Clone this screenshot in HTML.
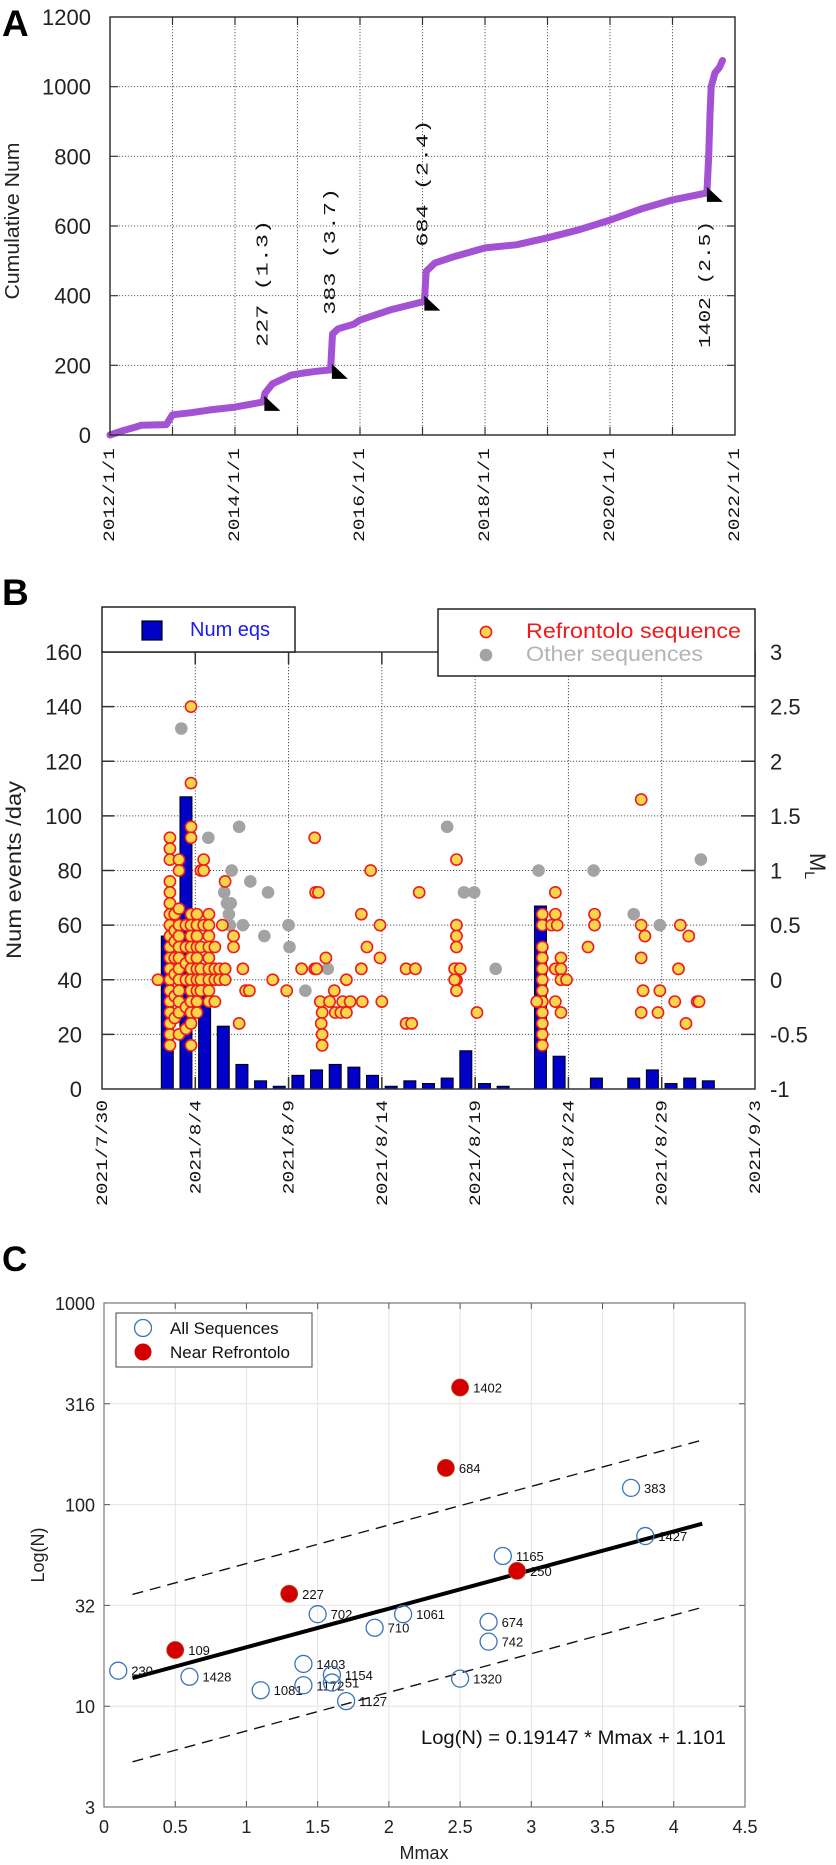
<!DOCTYPE html>
<html><head><meta charset="utf-8">
<style>
html,body{margin:0;padding:0;background:#fff;}
svg{display:block;font-family:"Liberation Sans",sans-serif;}
</style></head>
<body>
<svg id="fig" xmlns="http://www.w3.org/2000/svg" width="836" height="1865" viewBox="0 0 836 1865"></svg>
<script>
// ---------- Panel A data ----------
const aYears = [2012.0,2012.2,2012.4,2012.5,2012.9,2013.0,2013.3,2013.6,2014.0,2014.3,2014.45,2014.48,2014.6,2014.9,2015.1,2015.3,2015.53,2015.56,2015.65,2015.9,2016.0,2016.5,2017.0,2017.03,2017.06,2017.2,2017.5,2018.0,2018.5,2019.0,2019.5,2020.0,2020.5,2021.0,2021.55,2021.58,2021.6,2021.62,2021.68,2021.75,2021.8];
const aCounts = [0,12,22,28,30,58,64,72,80,90,95,120,147,172,178,183,187,290,305,318,330,360,382,384,470,494,512,537,546,566,589,617,649,675,695,800,920,1000,1040,1055,1075];
const evYears = [2014.47,2015.55,2017.03,2021.55];
const evCounts = [95,187,383,695];
const evLabels = ["227 (1.3)","383 (3.7)","684 (2.4)","1402 (2.5)"];
const evBelow = [false,false,false,true];
const aYTicks = [0,200,400,600,800,1000,1200];
const aXTickYears = [2012,2014,2016,2018,2020,2022];
const aXTickLabels = ["2012/1/1","2014/1/1","2016/1/1","2018/1/1","2020/1/1","2022/1/1"];

// ---------- Panel B data ----------
const barDays = [3,4,5,6,7,8,9,10,11,12,13,14,15,16,17,18,19,20,21,23,24,26,28,29,30,31,32];
const barCounts = [56,107,35,23,9,3,1,5,7,9,8,5,1,3,2,4,14,2,1,67,12,4,4,7,2,4,3];
const refDays = [3.0,
 3.64,3.64,3.64,3.64,3.64,3.64,3.64,3.64,3.64,3.64,3.64,3.64,3.64,3.64,3.64,3.64,3.64,3.64,3.64,
 3.9,3.9,3.9,3.9,3.9,3.9,3.9,
 4.13,4.13,4.13,4.13,4.13,4.13,4.13,4.13,4.13,4.13,4.13,4.13,4.13,
 4.5,4.5,4.5,4.5,4.5,4.5,
 4.77,4.77,4.77,4.77,4.77,4.77,4.77,4.77,4.77,4.77,4.77,4.77,4.77,4.77,4.77,4.77,
 5.09,5.09,5.09,5.09,5.09,5.09,5.09,5.09,5.09,5.09,
 5.3,5.3,5.3,5.3,5.3, 5.45,5.45,5.45,
 5.73,5.73,5.73,5.73,5.73,5.73,5.73,5.73,5.73,
 6.05,6.05,6.05,6.05, 6.3,6.3, 6.6,6.6,6.6, 6.45,
 7.05,7.05,7.55,7.7,7.9,7.35,
 9.15,9.9,10.7,11.4,11.4,11.5,11.45,11.6,11.7,11.8,11.75,11.8,11.8,12.0,12.2,12.45,12.5,12.9,12.8,13.1,13.3,13.1,
 13.9,13.9,13.95,14.2,14.4,14.9,14.9,15.0,16.3,16.8,16.3,16.6,17.0,
 19.0,19.0,19.0,19.0,19.0,19.0,19.0,18.9,18.9,19.2,20.1,
 23.6,23.6,23.6,23.6,23.6,23.6,23.6,23.6,23.6,23.6,23.6,23.6,
 24.3,24.3,24.3,24.3,24.1,24.4,24.6,24.6,24.6,24.6,24.9,23.3,
 26.4,26.4,26.05,28.9,28.9,28.9,28.9,29.1,29.0,29.9,29.8,31.0,31.45,30.9,30.7,31.3,31.9,32.0];
const refMags = [0.0,
 1.3,1.2,1.1,0.9,0.8,0.7,0.6,0.5,0.4,0.3,0.2,0.1,0.0,-0.1,-0.2,-0.3,-0.4,-0.5,-0.6,
 0.6,0.45,0.35,0.2,0.05,-0.15,-0.35,
 1.1,1.0,0.65,0.5,0.4,0.3,0.2,0.1,0.0,-0.1,-0.2,-0.3,-0.5,
 0.5,0.3,0.15,0.0,-0.25,-0.45,
 2.5,1.8,1.4,1.3,0.6,0.5,0.4,0.3,0.2,0.1,0.0,-0.1,-0.2,-0.3,-0.4,-0.6,
 0.6,0.5,0.4,0.3,0.2,0.1,0.0,-0.1,-0.2,-0.3,
 1.0,0.3,0.1,0.0,-0.1, 1.1,1.0,0.5,
 0.6,0.5,0.4,0.3,0.2,0.1,0.0,-0.1,-0.2,
 0.3,0.1,0.0,-0.2, 0.1,0.0, 0.9,0.1,0.0, 0.5,
 0.4,0.3,0.1,-0.1,-0.1,-0.4,
 0.0,-0.1,0.1,1.3,0.1,0.1,0.8,0.8,-0.2,-0.3,-0.4,-0.5,-0.6,0.2,-0.2,-0.1,-0.3,-0.2,-0.3,0.0,-0.2,-0.3,
 0.6,0.1,-0.2,0.3,1.0,0.5,0.2,-0.2,0.1,0.1,-0.4,-0.4,0.8,
 1.1,0.5,0.4,0.3,0.1,0.0,-0.1,0.1,0.0,0.1,-0.3,
 0.6,0.5,0.3,0.2,0.1,0.0,-0.1,-0.2,-0.3,-0.4,-0.5,-0.6,
 0.8,0.6,0.1,-0.2,0.5,0.5,0.2,0.1,0.0,-0.3,0.0,-0.2,
 0.6,0.5,0.3,1.65,0.5,0.2,-0.3,0.4,-0.1,-0.1,-0.3,0.5,0.4,0.1,-0.2,-0.4,-0.2,-0.2];
const othDays = [4.25,5.7,7.35,6.95,7.95,8.9,6.55,6.7,6.9,6.8,6.85,7.55,8.7,10.0,10.05,5.7,12.1,10.9,18.5,19.4,19.95,21.1,23.4,26.35,28.5,29.9,32.1];
const othMags = [2.3,1.3,1.4,1.0,0.9,0.8,0.8,0.7,0.7,0.6,0.5,0.5,0.4,0.5,0.3,0.2,0.1,-0.1,1.4,0.8,0.8,0.1,1.0,1.0,0.6,0.5,1.1];
const bYTicks = [0,20,40,60,80,100,120,140,160];
const bMTicks = [-1,-0.5,0,0.5,1,1.5,2,2.5,3];
const bXTickDays = [0,5,10,15,20,25,30,35];
const bXTickLabels = ["2021/7/30","2021/8/4","2021/8/9","2021/8/14","2021/8/19","2021/8/24","2021/8/29","2021/9/3"];

// ---------- Panel C data ----------
const cAllM = [0.1,0.6,1.1,1.4,1.4,1.5,1.6,1.6,1.7,1.9,2.1,2.5,2.7,2.7,2.8,3.7,3.8];
const cAllN = [15.0,14.0,12.0,16.2,12.7,28.6,14.3,13.1,10.6,24.5,28.6,13.7,26.2,20.9,55.6,121,69.8];
const cAllLbl = ["230","1428","1081","1403","1172","702","1154","51","1127","710","1061","1320","674","742","1165","383","1427"];
const cNearM = [0.5,1.3,2.4,2.5,2.9];
const cNearN = [19.0,36.1,152,381,46.9];
const cNearLbl = ["109","227","684","1402","250"];
const fitSlope = 0.19147, fitIntercept = 1.101, fitBand = 0.415;
const fitRange = [0.2,4.2];
const cXTicks = [0,0.5,1,1.5,2,2.5,3,3.5,4,4.5];
const cYTickVals = [3.162,10,31.62,100,316.2,1000];
const cYTickLabels = ["3","10","32","100","316","1000"];

const NS="http://www.w3.org/2000/svg";
const svg=document.getElementById('fig');
function mk(tag,attrs,parent){const e=document.createElementNS(NS,tag);for(const k in attrs)e.setAttribute(k,attrs[k]);(parent||svg).appendChild(e);return e;}
function txt(s,attrs,parent){const e=mk('text',attrs,parent);e.textContent=s;return e;}

// ================= PANEL A =================
const xA=y=>110+(y-2012)*62.5, yA=v=>435-v*0.34833;
const gA=mk('g',{});


let t=txt('A',{x:2,y:36,'font-size':37,'font-weight':'bold'},gA);


for(let yr=2013;yr<=2021;yr++){
  const l=mk('line',{x1:xA(yr),x2:xA(yr),y1:17,y2:435,stroke:'#666','stroke-width':1,'stroke-dasharray':'1.2,1.8'},gA);
  
  
  const tk=mk('path',{d:`M${xA(yr)},17v8M${xA(yr)},435v-8`,stroke:'#333','stroke-width':1.2},gA);
  
  
}
aYTicks.forEach(v=>{
  if(v>0&&v<1200){
    const l=mk('line',{x1:110,x2:735,y1:yA(v),y2:yA(v),stroke:'#666','stroke-width':1,'stroke-dasharray':'1.2,1.8'},gA);
    
    
    const tk=mk('path',{d:`M110,${yA(v)}h8M735,${yA(v)}h-8`,stroke:'#333','stroke-width':1.2},gA);
    
    
  }
  const tl=txt(String(v),{x:91,y:yA(v)+8,'font-size':22,'text-anchor':'end',fill:'#222'},gA);
  
  
});
aXTickYears.forEach((yr,i)=>{
  const x=xA(yr)-1;
  const tl=txt(aXTickLabels[i],{x:0,y:0,'font-size':16,'font-family':'Liberation Mono, monospace','text-anchor':'end',textLength:94,lengthAdjust:'spacingAndGlyphs',transform:`translate(${x+5},448) rotate(-90)`,fill:'#111'},gA);
  
  
});
t=txt('Cumulative Num',{x:0,y:0,'font-size':20,'text-anchor':'middle',textLength:157,lengthAdjust:'spacingAndGlyphs',transform:'translate(19,221) rotate(-90)',fill:'#222'},gA);


// curve
const pts=aYears.map((y,i)=>xA(y).toFixed(1)+','+yA(aCounts[i]).toFixed(1)).join(' ');
const curve=mk('polyline',{points:pts,fill:'none',stroke:'#a452d4','stroke-width':7,'stroke-linecap':'round','stroke-linejoin':'round'},gA);


evYears.forEach((y,i)=>{
  const px=xA(y), py=yA(evCounts[i]);
  const tri=mk('path',{d:`M${px},${py-6}L${px},${py+9}L${px+16},${py+9}Z`,fill:'#000'},gA);
  
  
  const base = evBelow[i] ? py+155 : py-55;
  const tl=txt(evLabels[i],{x:0,y:0,'font-size':17,'font-family':'Liberation Mono, monospace','text-anchor':'start',textLength:127,lengthAdjust:'spacingAndGlyphs',transform:`translate(${px+3},${base}) rotate(-90)`,fill:'#111'},gA);
  
  
});
const frA=mk('rect',{x:110,y:17,width:625,height:418,fill:'none',stroke:'#333','stroke-width':1.5},gA);



// ================= PANEL B =================
const xB=d=>102+d*18.657, yBN=n=>1089-n*2.731, yBM=m=>yBN((m+1)*40);
const gB=mk('g',{});


t=txt('B',{x:2,y:605,'font-size':37,'font-weight':'bold'},gB);


bXTickDays.forEach((d,i)=>{
  if(d>0&&d<35){
    const l=mk('line',{x1:xB(d),x2:xB(d),y1:652,y2:1089,stroke:'#555','stroke-width':1,'stroke-dasharray':'1.2,1.8'},gB);
    
    
    const tk=mk('path',{d:`M${xB(d)},652v12M${xB(d)},1089v-12`,stroke:'#333','stroke-width':1.5},gB);
    
    
  }
  const tl=txt(bXTickLabels[i],{x:0,y:0,'font-size':16,'font-family':'Liberation Mono, monospace','text-anchor':'end',textLength:bXTickLabels[i].length*11.8,lengthAdjust:'spacingAndGlyphs',transform:`translate(${xB(d)+5},1100) rotate(-90)`,fill:'#111'},gB);
  
  
});
bYTicks.forEach(v=>{
  if(v>0&&v<160){
    const l=mk('line',{x1:102,x2:755,y1:yBN(v),y2:yBN(v),stroke:'#555','stroke-width':1,'stroke-dasharray':'1.2,1.8'},gB);
    
    
    const tk=mk('path',{d:`M102,${yBN(v)}h12M755,${yBN(v)}h-14`,stroke:'#333','stroke-width':1.5},gB);
    
    
  }
  const tl=txt(String(v),{x:82,y:yBN(v)+8,'font-size':22,'text-anchor':'end',fill:'#222'},gB);
  
  
});
bMTicks.forEach(m=>{
  const tl=txt(String(m),{x:770,y:yBM(m)+8,'font-size':22,fill:'#222'},gB);
  
  
});
t=txt('Num events /day',{x:0,y:0,'font-size':21,'text-anchor':'middle',textLength:178,lengthAdjust:'spacingAndGlyphs',transform:'translate(21,870) rotate(-90)',fill:'#222'},gB);


t=mk('text',{x:0,y:0,'font-size':22,'text-anchor':'middle',transform:'translate(810,866) rotate(90)',fill:'#222'},gB);
t.innerHTML='M<tspan font-size="14" dy="5">L</tspan>';


barDays.forEach((d,i)=>{
  const r=mk('rect',{x:xB(d+0.5)-6,y:yBN(barCounts[i]),width:12,height:Math.max(0,1089-yBN(barCounts[i])),fill:'#0000c8',stroke:'#000','stroke-width':1},gB);
  
  
});
othDays.forEach((d,i)=>{
  const c=mk('circle',{cx:xB(d),cy:yBM(othMags[i]),r:6.3,fill:'#a3a3a3'},gB);
  
  
});
refDays.forEach((d,i)=>{
  const c=mk('circle',{cx:xB(d),cy:yBM(refMags[i]),r:5.6,fill:'#f7d64c',stroke:'#ee1c1c','stroke-width':1.6},gB);
  
  
});
const frB=mk('rect',{x:102,y:652,width:653,height:437,fill:'none',stroke:'#333','stroke-width':1.5},gB);


// legends
const lg1=mk('g',{},gB);


mk('rect',{x:102,y:607,width:193,height:45,fill:'#fff',stroke:'#222','stroke-width':1.5},lg1);
mk('rect',{x:142,y:621,width:20,height:19,fill:'#0000c8',stroke:'#000','stroke-width':1.2},lg1);
txt('Num eqs',{x:190,y:636,'font-size':20,fill:'#1a1aee'},lg1);
const lg2=mk('g',{},gB);


mk('rect',{x:438,y:609,width:317,height:67,fill:'#fff',stroke:'#222','stroke-width':1.5},lg2);
mk('circle',{cx:486,cy:632,r:5.6,fill:'#f7d64c',stroke:'#ee1c1c','stroke-width':1.6},lg2);
mk('circle',{cx:486,cy:655,r:6.3,fill:'#a3a3a3'},lg2);
txt('Refrontolo sequence',{x:526,y:638,'font-size':21,fill:'#ee1c1c',textLength:215,lengthAdjust:'spacingAndGlyphs'},lg2);
txt('Other sequences',{x:526,y:661,'font-size':21,fill:'#b4b4b4',textLength:177,lengthAdjust:'spacingAndGlyphs'},lg2);

// ================= PANEL C =================
const xC=m=>104+m*142.44, yC=n=>1303+(3-Math.log10(n))*201.6;
const gC=mk('g',{});


t=txt('C',{x:2,y:1271,'font-size':35,'font-weight':'bold'},gC);


cXTicks.forEach(m=>{
  if(m>0&&m<4.5){
    const l=mk('line',{x1:xC(m),x2:xC(m),y1:1303,y2:1807,stroke:'#e4e4e4','stroke-width':1},gC);
    
    
    const tk=mk('path',{d:`M${xC(m)},1303v6M${xC(m)},1807v-6`,stroke:'#555','stroke-width':1},gC);
    
    
  }
  const tl=txt(String(m),{x:xC(m),y:1833,'font-size':18,'text-anchor':'middle',fill:'#222'},gC);
  
  
});
cYTickVals.forEach((v,i)=>{
  const y=yC(v);
  if(i>0&&i<cYTickVals.length-1){
    const l=mk('line',{x1:104,x2:745,y1:y,y2:y,stroke:'#e4e4e4','stroke-width':1},gC);
    
    
    const tk=mk('path',{d:`M104,${y}h6M745,${y}h-6`,stroke:'#555','stroke-width':1},gC);
    
    
  }
  const tl=txt(cYTickLabels[i],{x:95,y:y+7,'font-size':18,'text-anchor':'end',fill:'#222'},gC);
  
  
});
t=txt('Log(N)',{x:0,y:0,'font-size':18,'text-anchor':'middle',transform:'translate(44,1555) rotate(-90)',fill:'#222'},gC);


t=txt('Mmax',{x:424,y:1859,'font-size':18,'text-anchor':'middle',fill:'#222'},gC);


const fy=(m,off)=>yC(Math.pow(10,fitSlope*m+fitIntercept+off));
[fitBand,-fitBand].forEach(off=>{
  const d=mk('line',{x1:xC(fitRange[0]),y1:fy(fitRange[0],off),x2:xC(fitRange[1]),y2:fy(fitRange[1],off),stroke:'#111','stroke-width':1.4,'stroke-dasharray':'11,7'},gC);
  
  
});
const fl=mk('line',{x1:xC(fitRange[0]),y1:fy(fitRange[0],0),x2:xC(fitRange[1]),y2:fy(fitRange[1],0),stroke:'#000','stroke-width':4},gC);


cAllM.forEach((m,i)=>{
  const c=mk('circle',{cx:xC(m),cy:yC(cAllN[i]),r:8.5,fill:'none',stroke:'#3a74bd','stroke-width':1.3},gC);
  
  
  const tl=txt(cAllLbl[i],{x:xC(m)+13,y:yC(cAllN[i])+5,'font-size':13,fill:'#111'},gC);
  
  
});
cNearM.forEach((m,i)=>{
  const c=mk('circle',{cx:xC(m),cy:yC(cNearN[i]),r:8.5,fill:'#d40000',stroke:'#b84a1a','stroke-width':0.8},gC);
  
  
  const tl=txt(cNearLbl[i],{x:xC(m)+13,y:yC(cNearN[i])+5,'font-size':13,fill:'#111'},gC);
  
  
});
t=txt('Log(N) = 0.19147 * Mmax + 1.101',{x:421,y:1744,'font-size':19,textLength:305,lengthAdjust:'spacingAndGlyphs',fill:'#111'},gC);


const frC=mk('rect',{x:104,y:1303,width:641,height:504,fill:'none',stroke:'#777','stroke-width':1.2},gC);


const lg3=mk('g',{},gC);


mk('rect',{x:116,y:1313,width:196,height:54,fill:'#fff',stroke:'#444','stroke-width':1},lg3);
mk('circle',{cx:143,cy:1328,r:8.5,fill:'none',stroke:'#3a74bd','stroke-width':1.3},lg3);
mk('circle',{cx:143,cy:1352,r:8.5,fill:'#d40000'},lg3);
txt('All Sequences',{x:170,y:1334,'font-size':17,fill:'#111'},lg3);
txt('Near Refrontolo',{x:170,y:1358,'font-size':17,fill:'#111'},lg3);
</script>
</body></html>
